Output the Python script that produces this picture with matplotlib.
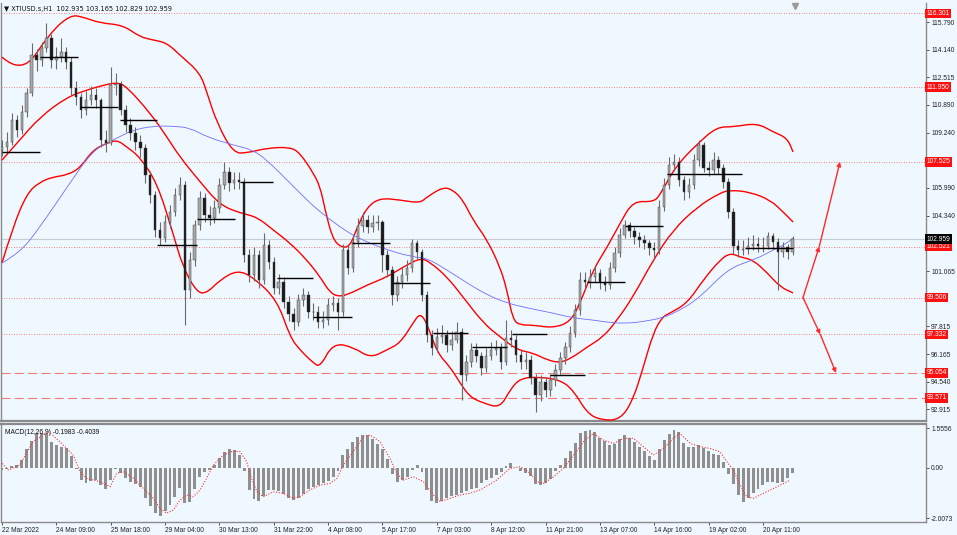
import matplotlib
matplotlib.use('Agg')
import matplotlib.pyplot as plt
from matplotlib.transforms import blended_transform_factory
from matplotlib.path import Path
from matplotlib.patches import PathPatch

# ---------------- data (3-hour bars) ----------------
open_first = 108.20
closes = [108.40,108.70,110.00,109.41,110.47,111.60,113.84,113.55,114.26,114.85,
          113.55,113.72,114.02,113.43,111.89,111.36,110.59,111.18,111.48,111.18,
          108.82,108.64,112.07,112.13,110.59,109.70,109.23,108.70,108.35,106.75,
          105.57,103.50,103.03,103.97,104.56,105.57,106.16,99.95,101.73,103.79,
          105.39,104.39,104.21,104.80,106.16,106.93,106.28,106.45,106.34,102.02,
          100.84,102.02,100.54,102.61,101.61,100.07,100.43,99.24,98.53,98.06,
          99.36,99.66,98.65,98.65,98.06,98.18,99.07,99.18,98.65,102.32,
          101.25,102.79,103.74,104.09,103.68,103.91,103.97,102.02,101.13,99.66,
          100.43,100.84,101.25,102.73,102.20,99.66,97.29,96.53,97.18,97.29,
          96.70,97.00,97.47,94.93,95.70,96.41,96.05,95.34,96.05,96.41,
          96.53,95.70,97.12,97.00,96.11,95.70,95.82,94.75,93.75,94.52,
          94.04,94.63,95.22,95.93,96.58,97.41,98.77,100.54,100.43,100.72,
          100.96,100.43,100.25,101.25,102.14,103.20,103.79,103.44,103.09,102.91,
          102.73,102.44,102.32,104.86,106.16,107.34,107.52,106.45,105.74,106.16,
          107.64,108.52,107.16,107.05,107.64,107.16,106.34,104.56,102.55,102.32,
          102.38,102.55,102.67,102.55,102.55,103.14,102.79,102.20,102.49,102.20,
          102.96]
highs = [108.8,109.3,110.4,110.3,110.9,111.9,114.55,114.2,114.6,115.73,
         115.1,114.3,114.85,114.3,113.7,112.3,111.6,111.7,112.0,111.9,
         111.3,109.4,113.13,112.8,112.3,110.9,110.1,109.6,109.1,108.6,
         107.0,105.8,104.0,104.4,105.0,106.0,106.63,106.4,102.2,104.1,
         105.8,105.7,104.9,105.3,106.6,107.52,107.2,106.9,106.9,106.6,
         102.4,102.5,102.3,103.32,102.9,101.9,100.9,100.7,99.6,98.9,
         99.7,100.1,99.9,99.2,99.0,98.7,99.5,99.6,99.5,102.7,
         102.6,103.2,104.2,104.56,104.4,104.4,104.4,104.1,102.3,101.4,
         100.8,101.3,101.7,102.97,102.9,102.4,99.9,97.6,97.7,97.9,
         97.6,97.5,98.06,97.7,96.1,96.8,96.8,96.3,96.5,96.9,
         97.0,96.8,98.18,97.6,97.3,96.4,96.3,96.1,95.0,94.9,
         94.8,95.0,95.6,96.3,96.9,97.8,99.1,101.0,101.0,101.2,
         101.4,101.2,100.8,101.6,102.5,103.6,104.09,104.0,103.7,103.4,
         103.2,102.9,102.8,105.3,106.6,107.8,108.0,107.8,106.7,106.6,
         108.0,108.82,108.7,107.6,108.1,107.9,107.4,106.6,104.8,102.9,
         102.9,103.1,103.2,103.1,103.1,103.4,103.3,103.0,102.8,102.7,
         103.17]
lows = [107.9,108.1,108.5,109.0,109.2,110.2,111.4,112.9,113.2,114.0,
        113.1,113.0,113.4,113.0,111.5,110.9,110.1,110.3,110.9,110.7,
        108.4,108.1,108.5,111.5,110.3,109.3,108.8,108.2,107.8,106.3,
        105.1,103.1,102.6,102.8,103.6,104.3,105.3,97.88,99.5,101.4,
        103.5,104.0,103.8,103.9,104.5,105.9,105.8,105.9,105.9,101.6,
        100.4,100.5,100.1,100.3,101.2,99.7,99.7,98.9,98.1,97.59,
        97.8,99.0,98.3,98.2,97.7,97.7,97.9,98.7,97.59,98.4,
        100.9,101.0,102.5,103.4,103.3,103.4,103.5,101.02,100.7,99.07,
        99.3,100.1,100.5,101.0,101.8,99.3,96.9,96.1,96.3,96.8,
        96.3,96.4,96.8,93.45,94.6,95.4,95.7,94.9,95.1,95.8,
        96.1,95.3,95.5,96.6,95.7,95.3,95.3,94.4,92.74,93.4,
        93.6,93.7,94.3,94.9,95.6,96.3,97.2,98.5,100.0,100.1,
        100.4,100.0,99.9,100.0,101.0,101.9,103.0,103.1,102.7,102.5,
        102.4,102.0,101.84,102.1,104.6,105.9,107.0,106.1,105.3,105.4,
        105.9,107.3,106.9,106.7,106.8,106.8,106.0,104.2,102.1,101.9,
        102.0,102.1,102.3,102.2,102.2,102.4,102.4,99.95,101.9,101.8,
        102.0]
opens = [open_first] + closes[:-1]

# Bollinger bands and moving average (bar position, price)
bb_up_x = [0,4.0,9.7,13.8,16.4,19.8,24.5,27.9,30.6,33.4,36.0,40.1,41.5,43.5,46.8,49.6,53.6,58.3,60.3,63.0,
           64.4,65.4,66.8,68.4,70.4,71.9,73.9,76.5,80.6,84.6,86.0,89.3,91.3,93.3,95.3,98.2,100.8,102.2,103.4,
           104.9,107.5,111.5,115.0,117.0,119.6,122.5,125.1,127.7,131.8,133.2,136.2,140.9,144.7,148.0,152.8,
           156.1,158.9,160.1]
bb_up = [113.72,112.66,115.14,116.21,116.09,115.73,115.61,114.91,114.73,114.55,113.84,112.78,111.60,109.82,
         108.05,108.05,108.34,108.40,108.05,106.87,106.04,104.68,103.08,102.49,102.49,103.68,104.86,105.39,
         105.27,105.09,105.45,106.04,105.86,105.27,104.09,102.91,101.31,99.95,98.18,97.88,97.88,97.71,98.06,
         99.18,101.13,102.49,103.91,105.21,105.15,105.57,107.22,108.64,109.59,109.59,109.82,109.29,108.94,108.11]
bb_mid_x = [0,3.6,7.7,13.2,17.2,19.2,23.3,25.3,30.0,33.4,36.0,40.1,44.1,48.2,51.6,54.9,58.3,61.7,64.4,66.4,
            68.4,71.1,73.9,77.9,81.2,84.6,86.6,90.1,93.3,97.4,100.8,104.3,107.5,110.3,113.0,115.6,118.4,121.7,
            124.5,127.7,131.8,135.8,140.7,145.3,147.4,151.4,155.5,158.1,160.1]
bb_mid = [107.63,108.82,110.18,111.36,111.77,111.95,112.25,111.95,110.41,108.99,107.81,106.34,104.98,104.50,
          104.27,103.50,102.73,101.73,100.72,99.78,99.54,99.83,100.25,100.72,101.31,101.84,101.61,100.72,99.54,
          98.00,97.18,96.41,96.23,95.82,95.64,95.99,96.58,97.18,98.18,99.54,101.73,103.50,104.86,105.69,105.86,
          105.74,105.27,104.56,103.97]
bb_low_x = [0,2.2,5.1,7.7,10.3,13.2,15.8,18.4,21.3,23.3,25.3,27.9,31.4,34.6,36.6,39.5,41.5,44.1,47.6,50.8,
            55.7,58.3,60.3,63.0,64.4,67.0,71.1,74.5,77.9,80.6,83.2,84.6,86.0,88.1,90.7,92.7,94.7,97.4,100.8,
            102.8,104.9,108.9,113.0,115.6,118.4,121.1,125.1,127.7,129.8,131.8,133.6,135.2,138.7,141.9,145.3,
            147.4,149.4,152.0,154.9,157.5,160.1]
bb_low = [101.55,103.68,105.69,106.34,106.63,106.75,107.16,108.23,108.64,108.82,108.40,107.81,106.28,103.32,
          101.31,99.78,99.78,100.54,101.13,100.72,99.36,97.17,96.41,95.64,95.40,96.82,96.58,95.93,96.41,96.82,
          98.00,98.59,98.00,96.23,95.40,94.46,93.63,93.27,92.98,94.04,94.75,94.81,94.63,94.04,92.68,92.27,92.27,
          93.45,95.40,97.41,98.35,98.59,99.18,100.54,101.73,102.14,101.90,101.73,100.96,100.13,99.78]
ma_x = [0,3.6,7.7,13.2,18.4,22.5,26.5,30.6,34.6,38.1,41.5,46.8,50.8,53.6,57.7,61.7,64.4,68.4,71.9,77.9,83.2,
        86.0,90.1,94.1,98.2,102.2,106.3,111.5,115.6,119.6,123.7,127.1,129.1,133.8,137.2,139.9,142.7,145.3,148.0,
        150.8,153.4,156.1,158.9,160.1]
ma = [101.55,102.14,103.68,106.04,108.23,108.82,109.41,109.64,109.64,109.53,108.99,108.52,108.23,107.63,106.45,
      105.27,104.56,103.68,103.03,102.32,101.90,101.84,101.13,100.37,99.66,99.18,98.89,98.59,98.30,98.18,98.00,
      98.00,98.06,98.30,98.77,99.24,99.95,100.72,101.31,101.61,101.90,102.32,102.73,103.03]

# daily open segments
day_start = [0,7.7,15.8,23.9,31.4,39.5,48.2,55.7,63.0,70.9,78.9,87.2,95.1,103.2,110.9,118.4,126.1,134.6,150.4]
day_end = [7.7,15.4,23.5,31.4,39.5,47.2,54.9,63.0,70.9,78.5,86.6,94.3,102.2,110.3,118.0,126.1,133.8,149.8,160.1]
day_open = [108.09,113.70,110.75,110.00,102.61,104.15,106.35,100.68,98.34,102.75,100.35,97.43,96.60,97.35,
            94.93,100.41,103.73,106.79,102.42]

# MACD histogram (per bar) and signal line
macd_hist = [-0.09,-0.05,0.08,0.12,0.30,0.75,1.05,1.36,1.38,1.33,
             1.00,0.88,0.82,0.76,0.45,-0.05,-0.50,-0.60,-0.54,-0.50,
             -0.70,-0.86,-0.48,-0.05,-0.20,-0.40,-0.55,-0.66,-0.78,-1.20,
             -1.52,-1.78,-1.90,-1.70,-1.48,-1.15,-0.80,-1.40,-1.35,-0.85,
             -0.38,-0.18,-0.08,0.12,0.40,0.62,0.74,0.70,0.52,-0.15,
             -0.90,-1.22,-1.32,-1.10,-0.88,-0.88,-0.93,-1.05,-1.20,-1.26,
             -1.18,-1.05,-0.85,-0.78,-0.70,-0.62,-0.53,-0.38,-0.15,0.52,
             0.75,1.00,1.20,1.29,1.28,1.12,0.92,0.75,0.35,-0.24,
             -0.55,-0.50,-0.38,-0.10,0.10,-0.16,-0.90,-1.32,-1.40,-1.32,
             -1.20,-1.13,-1.06,-1.00,-0.93,-0.86,-0.80,-0.60,-0.48,-0.40,
             -0.28,-0.18,0.05,0.20,-0.02,-0.14,-0.22,-0.32,-0.65,-0.69,
             -0.60,-0.45,-0.12,0.10,0.38,0.66,0.98,1.38,1.45,1.49,
             1.40,1.18,1.04,0.90,0.93,1.12,1.28,1.16,1.00,0.83,
             0.66,0.45,0.31,0.74,1.08,1.35,1.49,1.40,0.98,0.80,
             0.82,0.90,0.78,0.66,0.56,0.51,0.22,-0.25,-0.65,-1.08,
             -1.34,-1.20,-1.00,-0.85,-0.69,-0.57,-0.58,-0.61,-0.55,-0.42,
             -0.22]
signal_x = [0,1.3,3.6,6.3,9.4,11.7,14.4,15.8,17.1,18.5,19.8,21.9,23.2,24.6,26.6,28.6,30.6,32.0,33.3,34.7,
            36.0,37.4,38.7,40.1,41.4,42.8,44.8,46.8,48.2,49.5,50.5,51.6,52.9,54.9,56.9,59.0,60.3,62.3,64.4,66.4,
            67.8,69.1,71.1,73.1,74.5,76.5,78.5,79.9,81.2,83.3,85.3,87.3,88.7,90.7,92.7,94.7,96.8,100.1,102.8,
            104.9,106.9,108.2,109.6,111.6,113.6,115.7,117.7,119.7,121.7,123.8,125.8,127.8,129.8,131.8,133.9,
            135.9,137.2,139.3,141.3,143.3,145.3,146.7,148.0,149.4,150.7,152.1,153.4,155.5,157.5,159.5]
signal = [0.17,-0.09,0.11,1.03,1.42,1.03,0.50,-0.16,-0.42,-0.49,-0.55,-0.75,-0.22,-0.16,-0.42,-0.82,-1.21,
          -1.61,-1.80,-1.67,-1.28,-1.08,-1.15,-0.88,-0.42,0.11,0.50,0.66,0.63,0.24,-0.42,-0.95,-1.15,-0.95,
          -1.01,-1.21,-1.15,-0.88,-0.69,-0.62,-0.42,0.11,0.63,1.22,1.29,1.03,0.37,-0.22,-0.49,-0.36,-0.55,
          -1.08,-1.34,-1.21,-1.08,-1.01,-0.88,-0.49,-0.03,0.04,-0.22,-0.55,-0.62,-0.36,-0.03,0.50,1.03,1.36,
          1.09,0.96,1.16,1.16,0.83,0.50,0.76,1.16,1.36,0.96,0.83,0.76,0.63,0.24,-0.09,-0.69,-1.15,-1.21,
          -1.08,-0.88,-0.69,-0.49]

# horizontal levels
dotted_levels = [116.301, 111.950, 107.525, 102.521, 99.506, 97.332]
dashed_levels = [95.054, 93.571]
current_price = 102.959

price_ticks = [115.790, 114.140, 112.515, 110.890, 109.240, 105.990, 104.340, 101.065, 97.815, 96.165, 94.540, 92.915]
macd_ticks = [1.5556, 0.0, -2.0073]
macd_tick_labels = ['1.5556', '0.00', '-2.0073']
time_labels = ['22 Mar 2022', '24 Mar 09:00', '25 Mar 18:00', '29 Mar 04:00', '30 Mar 13:00', '31 Mar 22:00',
               '4 Apr 08:00', '5 Apr 17:00', '7 Apr 03:00', '8 Apr 12:00', '11 Apr 21:00', '13 Apr 07:00',
               '14 Apr 16:00', '19 Apr 02:00', '20 Apr 11:00']
bars_per_label = 11
title_text = '\u25BC XTIUSD.s,H1  102.935 103.165 102.829 102.959'
macd_title = 'MACD(12,26,9) -0.1983 -0.4039'

# ---------------- drawing ----------------
BG = '#F0F8FF'
FONT = ['Liberation Sans', 'DejaVu Sans']
FS = 4.8
plt.rcParams['font.family'] = FONT

fig = plt.figure(figsize=(9.57, 5.35), dpi=100, facecolor=BG)
ax = fig.add_axes([1/957, 1-421/535, 924.5/957, 418/535], facecolor=BG)
ax2 = fig.add_axes([1/957, 1-522/535, 924.5/957, 98/535], facecolor=BG)

n = len(closes)
xs = list(range(n))
XMIN, XMAX = -0.2, 186.9


def smooth_curve(axis, px, py, **kw):
    """Draw a smooth curve through the read points with quadratic Bezier segments."""
    verts = [(px[0], py[0])]
    codes = [Path.MOVETO]
    for i in range(1, len(px) - 1):
        mid = ((px[i] + px[i + 1]) / 2.0, (py[i] + py[i + 1]) / 2.0)
        verts += [(px[i], py[i]), mid]
        codes += [Path.CURVE3, Path.CURVE3]
    verts.append((px[-1], py[-1]))
    codes.append(Path.LINETO)
    axis.add_patch(PathPatch(Path(verts, codes), fill=False, **kw))


# levels
for lv in dotted_levels:
    ax.axhline(lv, color='#FF5A5A', lw=0.6, ls=(0, (1, 2)), zorder=1)
for lv in dashed_levels:
    ax.axhline(lv, color='#F07878', lw=0.8, ls=(0, (8, 4)), zorder=1)
ax.axhline(current_price, color='#C8CCD0', lw=0.8, zorder=1)

# bands & MA
smooth_curve(ax, bb_up_x, bb_up, edgecolor='#FF0000', lw=1.0, zorder=3)
smooth_curve(ax, bb_mid_x, bb_mid, edgecolor='#FF0000', lw=1.0, zorder=3)
smooth_curve(ax, bb_low_x, bb_low, edgecolor='#FF0000', lw=1.0, zorder=3)
smooth_curve(ax, ma_x, ma, edgecolor='#6E6EFF', lw=0.6, zorder=3)

# candles
ax.vlines(xs, lows, highs, color='#6a6a6a', lw=0.8, zorder=4)
bottoms = [min(o, c) for o, c in zip(opens, closes)]
heights = [max(abs(c - o), 0.03) for o, c in zip(opens, closes)]
cols = ['#a8a8a8' if c >= o else '#1a1a1a' for o, c in zip(opens, closes)]
ax.bar(xs, heights, bottom=bottoms, width=0.5, color=cols, edgecolor='#3a3a3a', linewidth=0.3, zorder=5)

# daily open segments
ax.hlines(day_open, day_start, day_end, color='black', lw=1.0, zorder=6)

# arrows
ap = dict(arrowstyle='-|>', color='#FF2A2A', lw=1.0, mutation_scale=6, shrinkA=0, shrinkB=0)
ax.annotate('', xy=(165.4, dotted_levels[3]), xytext=(162.1, dotted_levels[4]), arrowprops=ap, zorder=7)
ax.annotate('', xy=(169.6, dotted_levels[2]), xytext=(165.4, dotted_levels[3]), arrowprops=ap, zorder=7)
ax.annotate('', xy=(165.6, dotted_levels[5]), xytext=(162.1, dotted_levels[4]), arrowprops=ap, zorder=7)
ax.annotate('', xy=(168.8, dashed_levels[0]), xytext=(165.6, dotted_levels[5]), arrowprops=ap, zorder=7)

ax.set_xlim(XMIN, XMAX)
ax.set_ylim(92.21, 116.915)
ax.set_xticks([])
ax.yaxis.tick_right()
ax.set_yticks(price_ticks)
ax.set_yticklabels([f'{t:.3f}' for t in price_ticks])
ax.tick_params(axis='y', length=2, width=0.6, color='#333333', labelsize=FS, pad=2, labelcolor='#222222')
for s in ['left', 'right']:
    ax.spines[s].set_color('#8a8a8a'); ax.spines[s].set_linewidth(1.0)
ax.spines['top'].set_visible(False)
ax.spines['bottom'].set_color('#8a8a8a'); ax.spines['bottom'].set_linewidth(1.6)

# price labels on the right
tr = blended_transform_factory(ax.transAxes, ax.transData)
for lv in dotted_levels + dashed_levels:
    ax.text(1.0012, lv, f'{lv:.3f}', transform=tr, ha='left', va='center', fontsize=FS, color='white',
            bbox=dict(boxstyle='square,pad=0.18', fc='#FF1010', ec='none'), clip_on=False, zorder=10)
ax.text(1.0012, current_price, f'{current_price:.3f}', transform=tr, ha='left', va='center', fontsize=FS,
        color='white', bbox=dict(boxstyle='square,pad=0.18', fc='black', ec='none'), clip_on=False, zorder=11)

# title and shift marker
ax.text(0.003, 0.992, title_text, transform=ax.transAxes, ha='left', va='top', fontsize=FS, color='#111111',
        family=['DejaVu Sans'], zorder=12)
ax.plot([160.5], [116.75], marker='v', ms=4, color='#9a9a9a', clip_on=False, zorder=12)

# MACD panel
ax2.bar(xs, macd_hist, width=0.6, color='#8f8f8f', zorder=2)
ax2.plot(signal_x, signal, color='#FF3030', lw=0.8, ls=(0, (1, 1.5)), zorder=3)
ax2.set_xlim(XMIN, XMAX)
ax2.set_ylim(-2.146, 1.727)
ax2.yaxis.tick_right()
ax2.set_yticks(macd_ticks)
ax2.set_yticklabels(macd_tick_labels)
ax2.tick_params(axis='y', length=2, width=0.6, color='#333333', labelsize=FS, pad=2, labelcolor='#222222')
ax2.set_xticks([i * bars_per_label for i in range(len(time_labels))])
ax2.set_xticklabels(time_labels, ha='left')
ax2.tick_params(axis='x', length=2, width=0.6, color='#333333', labelsize=FS, pad=1.5, labelcolor='#222222')
for s in ['left', 'right', 'bottom']:
    ax2.spines[s].set_color('#8a8a8a'); ax2.spines[s].set_linewidth(1.0)
ax2.spines['top'].set_color('#8a8a8a'); ax2.spines['top'].set_linewidth(1.6)
ax2.text(0.004, 0.95, macd_title, transform=ax2.transAxes, ha='left', va='top', fontsize=FS, color='#111111')

fig.savefig('out.png', dpi=100, facecolor=BG)
